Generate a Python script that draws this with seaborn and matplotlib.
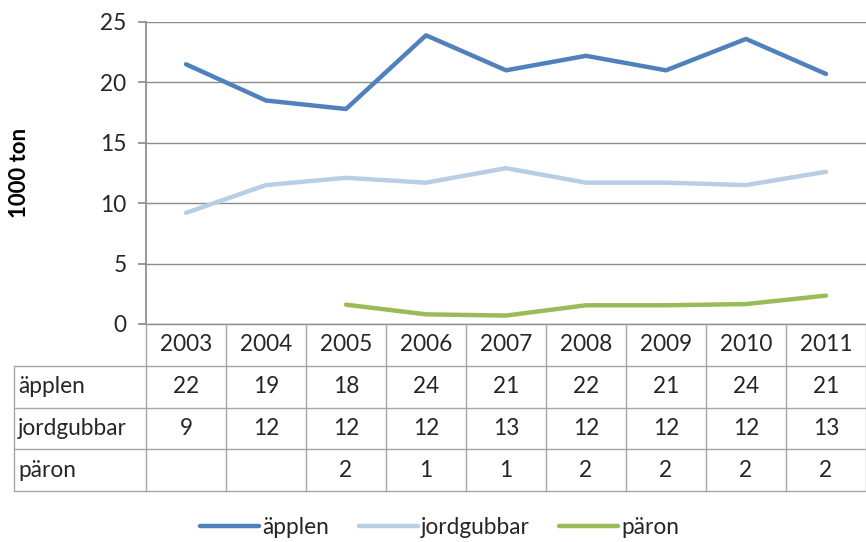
import numpy as np
import pandas as pd
import seaborn as sns
import matplotlib.pyplot as plt

years = ["2003", "2004", "2005", "2006", "2007", "2008", "2009", "2010", "2011"]
applen = [21.5, 18.5, 17.8, 23.9, 21.0, 22.2, 21.0, 23.6, 20.7]
jordgubbar = [9.2, 11.5, 12.1, 11.7, 12.9, 11.7, 11.7, 11.5, 12.6]
paron = [np.nan, np.nan, 1.6, 0.8, 0.7, 1.55, 1.55, 1.65, 2.35]
series_names = ["äpplen", "jordgubbar", "päron"]
colors = ["#4F81BD", "#B9CDE5", "#9BBB59"]

rows = []
for name, vals in zip(series_names, [applen, jordgubbar, paron]):
    for i, v in enumerate(vals):
        rows.append({"pos": i, "year": years[i], "serie": name, "value": v})
df = pd.DataFrame(rows)

sns.set_theme(style="white")
plt.rcParams["font.family"] = ["Lato", "DejaVu Sans"]
fs = 16.3
grid_c = "#8C8C8C"
text_c = "#262626"

W, H = 866, 542
fig = plt.figure(figsize=(W / 100, H / 100), dpi=100)

# main plot area
ax = fig.add_axes([146 / W, 1 - 324 / H, 720 / W, (324 - 22) / H])
sns.lineplot(data=df, x="pos", y="value", hue="serie", palette=colors,
             hue_order=series_names, linewidth=3.2, ax=ax, sort=False)
ax.set_xlim(-0.5, len(years) - 0.5)
ax.set_ylim(0, 25)
ax.set_yticks([0, 5, 10, 15, 20, 25])
ax.set_xticks([])
ax.set_xlabel("")
ax.set_ylabel("")
ax.grid(axis="y", color=grid_c, linewidth=1)
for s in ["top", "right", "bottom"]:
    ax.spines[s].set_visible(False)
ax.spines["left"].set_color(grid_c)
ax.tick_params(axis="y", left=True, length=6, color=grid_c, labelsize=fs,
               labelcolor=text_c, pad=8)
handles, labels = ax.get_legend_handles_labels()
ax.get_legend().remove()

fig.text(20 / W, 1 - 173 / H, "1000 ton", rotation=90, fontsize=16,
         fontweight="bold", color="black", ha="center", va="center")

# data table below the plot
tax = fig.add_axes([14 / W, 1 - 491 / H, (866 - 14) / W, (491 - 324) / H])
label_w = 132 / 80
tax.set_xlim(-0.5 - label_w, len(years) - 0.5)
tax.set_ylim(4, 0)
tax.axis("off")
lc = "#A6A6A6"
n = len(years)
# horizontal lines
tax.plot([-0.5, n - 0.5], [0, 0], color=grid_c, lw=1, clip_on=False)
for r in [1, 2, 3, 4]:
    tax.plot([-0.5 - label_w, n - 0.5], [r, r], color=lc, lw=1, clip_on=False)
# vertical lines
for c in range(n + 1):
    tax.plot([c - 0.5, c - 0.5], [0, 4], color=lc, lw=1, clip_on=False)
tax.plot([-0.5 - label_w] * 2, [1, 4], color=lc, lw=1, clip_on=False)

for i, y in enumerate(years):
    tax.text(i, 0.5, y, ha="center", va="center", fontsize=fs, color=text_c)
for r, (name, vals) in enumerate(zip(series_names, [applen, jordgubbar, paron])):
    tax.text(-0.5 - label_w + 0.05, r + 1.5, name, ha="left", va="center",
             fontsize=fs, color=text_c)
    for i, v in enumerate(vals):
        if not np.isnan(v):
            tax.text(i, r + 1.5, f"{int(np.floor(v + 0.5))}", ha="center",
                     va="center", fontsize=fs, color=text_c)

fig.legend(handles, labels, loc="center", bbox_to_anchor=(440 / W, 1 - 527 / H),
           ncol=3, frameon=False, fontsize=fs, handlelength=2.6,
           handletextpad=0.15, columnspacing=1.3, labelcolor=text_c)

fig.savefig("out.png", dpi=100)
